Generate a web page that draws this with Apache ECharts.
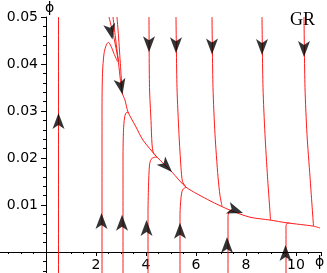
<!DOCTYPE html>
<html>
<head>
<meta charset="utf-8">
<script src="https://cdn.jsdelivr.net/npm/echarts@6/dist/echarts.min.js"></script>
<style>
html,body{margin:0;padding:0;background:#fff;}
#chart{width:327px;height:273px;}
</style>
</head>
<body>
<div id="chart"></div>
<script>
// ---- data (phase-space trajectories, x = phi, y = phi') ----
var vertical0 = [[0.5,-0.01],[0.5,0.05]];
// trajectories rising from below and joining the attractor
var rise1 = [[2.24,-0.01],[2.24,0.03],[2.26,0.038],[2.32,0.0422],[2.42,0.0442],[2.5,0.0446],[2.6,0.0438],[2.72,0.0422],[2.86,0.0405]];
var rise2 = [[3.08,-0.01],[3.08,0.02],[3.1,0.026],[3.14,0.0285],[3.2,0.0296],[3.3,0.0297]];
var rise3 = [[4.08,-0.01],[4.08,0.008],[4.1,0.014],[4.14,0.0185],[4.2,0.0197],[4.3,0.0201],[4.44,0.0202]];
var rise4 = [[5.36,-0.01],[5.36,0.008],[5.4,0.0115],[5.46,0.0132],[5.6,0.0138]];
var rise5 = [[7.28,-0.01],[7.28,0.0075],[7.32,0.0086],[7.4,0.0089]];
var rise6 = [[9.6,-0.01],[9.6,0.0055],[9.64,0.0061],[9.75,0.0062]];
// trajectories falling from above and joining the attractor
var fall1 = [[4.12,0.05],[4.14,0.035],[4.2,0.028],[4.24,0.023],[4.3,0.021],[4.44,0.0202]];
var fall2 = [[5.2,0.05],[5.24,0.035],[5.32,0.025],[5.4,0.018],[5.46,0.015],[5.6,0.0138]];
var fall3 = [[6.64,0.05],[6.68,0.035],[6.76,0.025],[6.88,0.016],[6.96,0.012],[7.04,0.0098]];
var fall4 = [[8.64,0.05],[8.68,0.035],[8.76,0.025],[8.86,0.016],[8.94,0.01],[8.98,0.0068]];
var fall5 = [[10.32,0.05],[10.36,0.035],[10.44,0.025],[10.56,0.016],[10.64,0.01],[10.7,0.0055]];
// converging top branches and the attractor
var topA = [[2.68,0.05],[2.78,0.0455],[2.9,0.0405]];
var topB = [[2.84,0.05],[2.9,0.046],[2.98,0.0395],[3.04,0.035]];
var attractor = [[2.52,0.05],[2.72,0.0455],[2.88,0.041],[3.04,0.034],[3.16,0.0323],[3.28,0.0298],[3.58,0.0268],[3.88,0.0238],[4.44,0.0202],[5.04,0.017],[5.6,0.0138],[6.56,0.0109],[7.36,0.0089],[8.16,0.0074],[8.96,0.0068],[9.64,0.0062],[10.7,0.0055],[10.96,0.0051]];
// arrow heads: [x, y, direction in degrees]
var arrowHeads = [
  [0.5,0.0296,0],
  [4.12,0.0425,180],[5.2,0.0423,180],[6.64,0.042,180],[8.64,0.0419,180],[10.32,0.0415,180],
  [2.66,0.0452,192],[3.06,0.0335,191],[5.04,0.017,224],[7.88,0.0083,251],
  [2.22,0.0083,0],[3.04,0.0079,0],[4.02,0.0068,0],[5.36,0.0062,0],[7.24,0.0032,0],[9.58,0.0015,0]
];
var xTickValues = [2,4,6,8,10];
var yTickValues = [0.01,0.02,0.03,0.04,0.05];

var curves = [vertical0,rise1,rise2,rise3,rise4,rise5,rise6,fall1,fall2,fall3,fall4,fall5,topA,topB,attractor];

var series = curves.map(function(c){
  return {type:'line', data:c, showSymbol:false, symbol:'none', smooth:0.25,
    lineStyle:{color:'#ff1a1a', width:1}, silent:true, animation:false, z:2};
});
series.push({
  type:'scatter', symbol:'arrow', symbolSize:[9,16], animation:false, z:5,
  itemStyle:{color:'#000'},
  data: arrowHeads.map(function(a){ return {value:[a[0],a[1]], symbolRotate:a[2]}; })
});

var chart = echarts.init(document.getElementById('chart'), null, {renderer:'canvas'});
chart.setOption({
  backgroundColor:'#fff',
  animation:false,
  grid:{left:-4, top:17, width:325, height:282, containLabel:false, outerBoundsMode:'none'},
  xAxis:{type:'value', min:-2, max:11, interval:2, offset:-47,
    axisLine:{onZero:false, lineStyle:{color:'#000', width:1}},
    axisTick:{show:true, length:4, lineStyle:{color:'#000'}},
    minorTick:{show:true, splitNumber:4, length:2, lineStyle:{color:'#000'}},
    splitLine:{show:false},
    axisLabel:{margin:6, color:'#000', fontFamily:'DejaVu Sans', fontSize:14,
      showMaxLabel:false,
      formatter:function(v){ return xTickValues.indexOf(v)>=0 ? String(v) : ''; }}
  },
  yAxis:{type:'value', min:-0.01, max:0.05, interval:0.01, offset:-50,
    axisLine:{onZero:false, lineStyle:{color:'#000', width:1}},
    axisTick:{show:true, length:5, lineStyle:{color:'#000'}},
    minorTick:{show:true, splitNumber:5, length:3, lineStyle:{color:'#000'}},
    splitLine:{show:false},
    axisLabel:{margin:8, color:'#000', fontFamily:'DejaVu Sans', fontSize:14,
      formatter:function(v){
        for (var i=0;i<yTickValues.length;i++){ if (Math.abs(v-yTickValues[i])<1e-9) return yTickValues[i].toFixed(2); }
        return '';
      }}
  },
  graphic:[
    {type:'text', left:45, top:1, style:{text:'ϕ', font:'14px "DejaVu Sans"', fill:'#000'}},
    {type:'text', left:315, top:255, style:{text:'ϕ', font:'14px "DejaVu Sans"', fill:'#000'}},
    {type:'text', left:290, top:11, style:{text:'GR', font:'18px "Liberation Serif"', fill:'#000'}}
  ],
  series:series
});
</script>
</body>
</html>
